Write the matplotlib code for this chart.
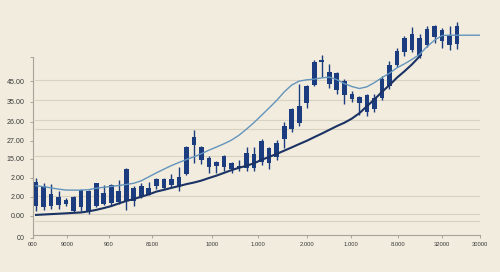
import matplotlib
matplotlib.use('Agg')
import matplotlib.pyplot as plt
import numpy as np

# ---- data (price units) ----
opens = [14.5, 14, 14.5, 15, 15.5, 12, 14, 12, 14.5, 15.5, 16, 16.5, 17.5, 17.5, 19.5, 20.5,
         25, 24, 25.5, 24.5, 31, 45.5, 38, 34.5, 35, 34.5, 33.5, 34, 34, 34, 37, 36.5, 39.5,
         48.5, 53.5, 57, 67, 76, 87.5, 76.5, 73.5, 71, 69, 67, 62.5, 64, 69.5, 75.5, 86,
         92.65, 93.65, 90.65, 96.5, 100.5, 98.15, 96.5, 97]
closes = [27, 25, 21, 19.5, 18, 19.5, 23, 22.5, 26.5, 21.5, 25.5, 22.5, 33.5, 24, 25, 24,
          28.5, 28.5, 28.5, 29.5, 44.5, 49.5, 44.5, 39, 37, 40, 36.5, 35, 41.5, 41, 47.5, 44,
          46.5, 55.5, 64, 65.5, 75.5, 87.5, 88.75, 82.65, 82, 78.15, 71.5, 70, 71, 69.5, 79,
          86, 93.15, 100, 102, 99.65, 104.5, 106, 104, 101.5, 106]
highs = [28.65, 26.5, 26, 22.5, 19, 20, 23.5, 23, 26.5, 25.5, 26, 28, 34, 25, 26.5, 27,
         29, 29, 31, 34.5, 45, 53, 45, 40, 37.5, 40.5, 37, 38, 44.5, 44.5, 48.5, 44.5, 48,
         57.5, 64.5, 76.5, 76, 88.5, 91, 86.5, 82.5, 79, 73, 70.5, 71.5, 71.5, 80.5, 88, 95,
         100.65, 105.5, 102, 106, 106.5, 105, 106, 108.15]
lows = [12, 12.5, 13, 13, 14.5, 11.5, 12, 10.5, 14, 15, 14.5, 15.5, 12.5, 14.5, 19, 20.25,
        23.5, 23.5, 24, 22.5, 30.5, 36.5, 36, 31.5, 31.5, 32.5, 31.5, 32.5, 32.5, 32.5, 35.5,
        33.5, 38, 44, 52, 55.5, 64.5, 75.5, 80, 74.5, 71.5, 66.5, 67.65, 61, 60.5, 62.5,
        68.5, 74, 85, 90.5, 92.5, 89.5, 95.5, 97.5, 95, 94, 94.5]

ma_fast = [25, 24.5, 23.9, 23.25, 22.8, 22.75, 22.75, 23, 23.7, 24.2, 24.65, 25.1, 25.6, 26.25,
           27.5, 29.5, 31.5, 33.35, 35.2, 36.75, 38.25, 39.65, 41.25, 43, 44.6, 46.25, 48.1,
           50.6, 53.7, 57.05, 60.7, 64.4, 68.2, 72.5, 76, 78, 78.65, 79, 79.65, 80, 78.75, 76.75,
           75.25, 74.25, 75.1, 77.25, 79.75, 82, 84.75, 86.75, 89, 91.5, 95.5, 98.75, 101.1,
           101.25, 101.25, 101.25, 101.25, 101.25]
ma_slow = [10.2, 10.4, 10.6, 10.8, 11, 11.25, 11.45, 12, 12.75, 13.65, 14.65, 16, 17.25,
           18.25, 19.4, 20.6, 22, 22.9, 23.9, 24.8, 25.8, 26.6, 27.6, 28.9, 30.1, 31.5,
           32.9, 34.1, 35.1, 36.4, 38.1, 39.6, 41.1, 42.75, 44.4, 46.1, 47.75, 49.6, 51.4,
           53.3, 55.2, 56.9, 59, 61.75, 65.25, 68.75, 72.5, 76, 79.75, 83, 86.5, 90.5]

ytick_vals = [77.85, 67.65, 57.5, 47.85, 38.65, 29, 19.35, 9.65, -1.5]
ytick_labels = ['45.00', '35.00', '26.00', '27.00', '15.00', '2.00', '2.00', '0.00', '00']
xtick_vals = [-0.4, 4.12, 9.71, 15.43, 23.40, 29.52, 36.04, 41.89, 48.14, 53.99, 59.04]
xtick_labels = ['000', '9000', '900', '8100', '1000', '1.000', '2.000', '1.000', '8.000',
                '32000', '30000']
grid_vals = [78.65, 68.5, 58.15, 53.5, 40, 20, 10.65, 7]

# ---- style ----
BG = '#f1ecdd'
CANDLE = '#1b3c7e'
DARK = '#1a3264'
LIGHT = '#6394bd'
GRID = '#d8d2c1'
SPINE = '#a8a298'
TXT = '#3a3a3a'

fig = plt.figure(figsize=(5, 2.72), dpi=100)
fig.patch.set_facecolor(BG)
ax = fig.add_axes([0.066, 0.125, 0.894, 0.8199])
ax.set_facecolor(BG)

for g in grid_vals:
    ax.axhline(g, xmin=0.005, xmax=1.0, color=GRID, lw=0.8, zorder=1)

x = np.arange(len(opens))
o = np.array(opens); c = np.array(closes)
bottom = np.minimum(o, c)
height = np.abs(c - o)
ax.vlines(x, lows, highs, color=CANDLE, lw=1.0, zorder=3)
ax.bar(x, height, bottom=bottom, width=0.62, color=CANDLE, zorder=4, linewidth=0)

ax.plot(np.arange(len(ma_fast)), ma_fast, color=LIGHT, lw=1.0, zorder=5)
ax.plot(np.arange(len(ma_slow)), ma_slow, color=DARK, lw=1.5, zorder=5)

ax.set_xlim(-0.4, 59.04)
ax.set_ylim(0, 111.5)

for s in ['top', 'right']:
    ax.spines[s].set_visible(False)
for s in ['left', 'bottom']:
    ax.spines[s].set_color(SPINE)
    ax.spines[s].set_linewidth(0.8)
ax.spines['left'].set_bounds(-1.5, 90.35)
ax.spines['bottom'].set_position(('data', 0))

ax.set_yticks(ytick_vals)
ax.set_yticklabels(ytick_labels, fontsize=5.1, color=TXT, family='Liberation Sans')
ax.set_yticks([90.35], minor=True)
ax.set_xticks(xtick_vals)
ax.set_xticklabels(xtick_labels, fontsize=4.2, color=TXT, family='Liberation Sans')
ax.tick_params(axis='y', which='both', length=2, width=0.7, color=SPINE, pad=4)
ax.tick_params(axis='x', length=2.2, width=0.7, color=SPINE, pad=3)

fig.savefig('out.png', dpi=100, facecolor=BG)
